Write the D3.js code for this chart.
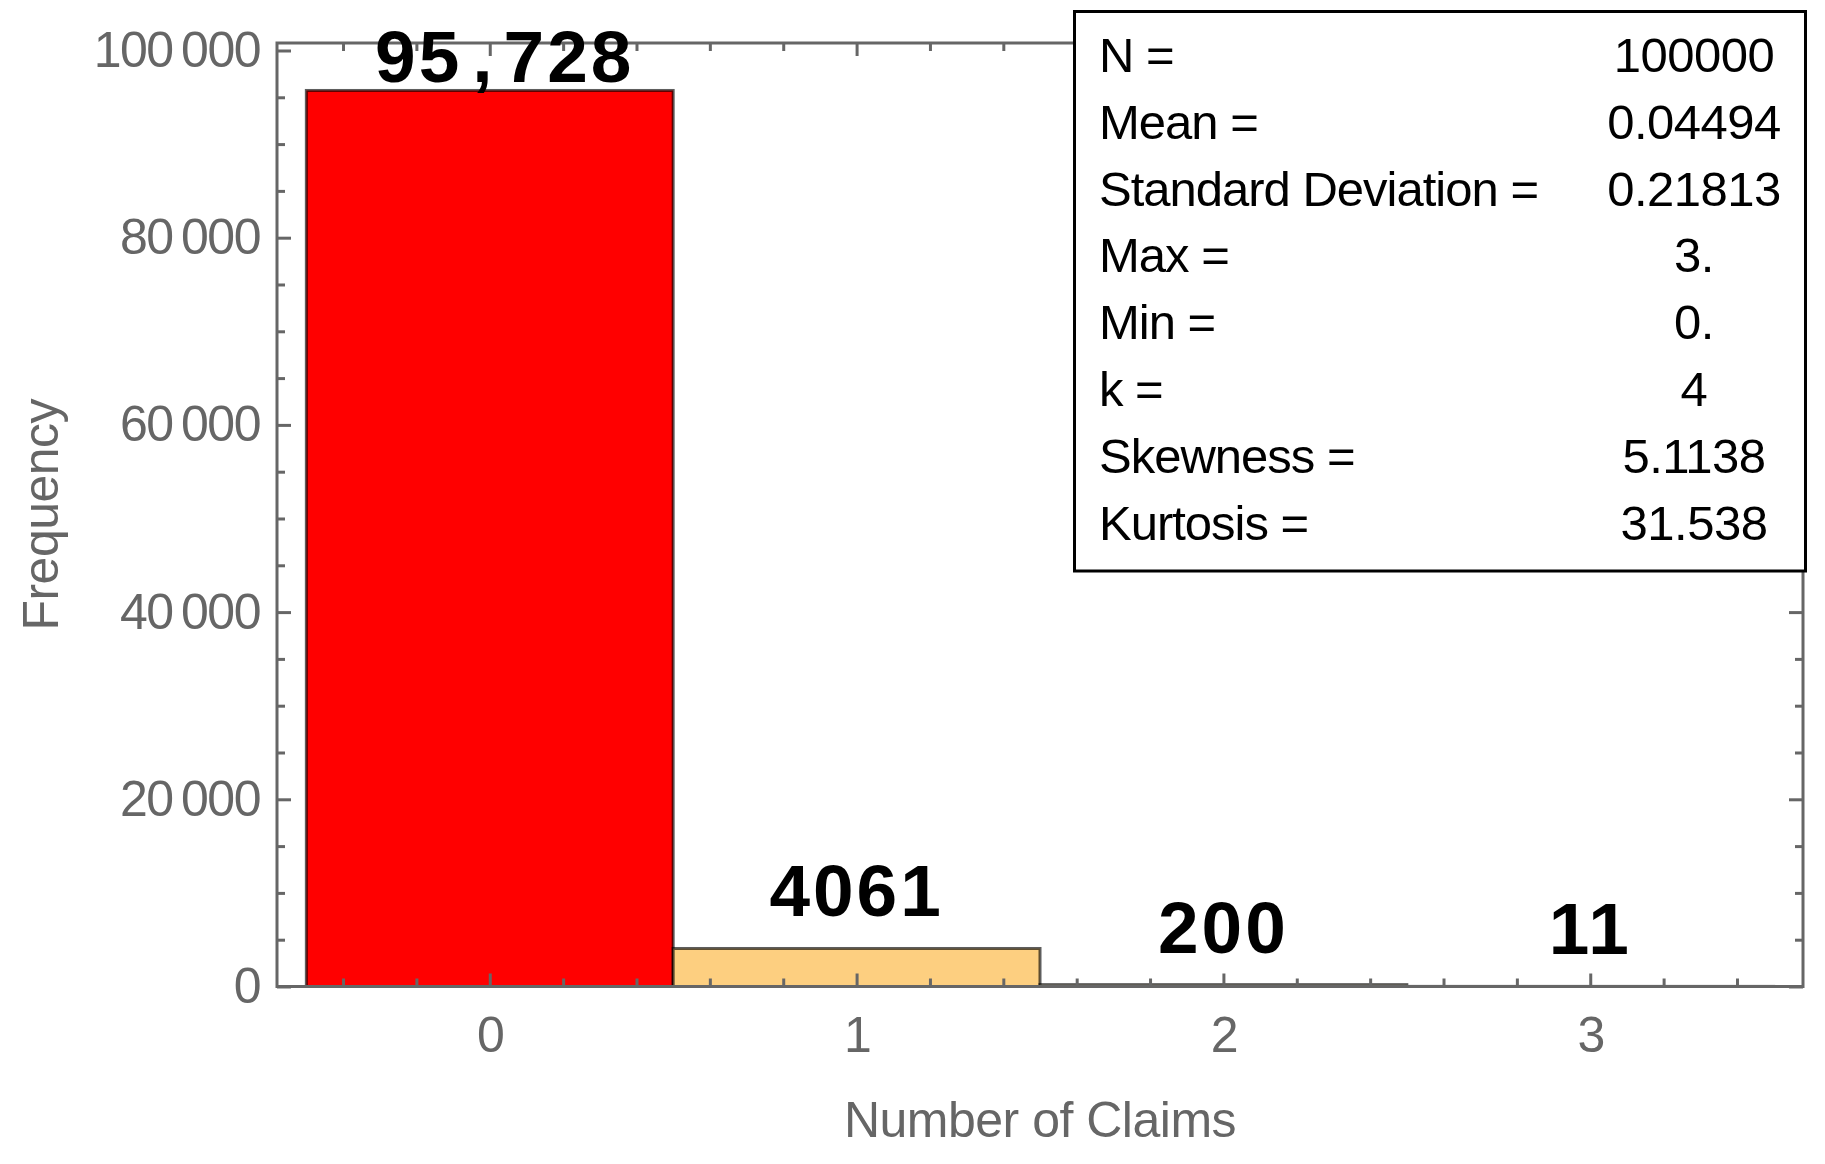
<!DOCTYPE html>
<html>
<head>
<meta charset="utf-8">
<script src="https://cdn.jsdelivr.net/npm/d3@7"></script>
<style>
  html, body { margin: 0; padding: 0; background: #ffffff; }
  svg { display: block; }
  text { font-family: "Liberation Sans", Arial, sans-serif; }
</style>
</head>
<body>
<svg id="chart" width="1825" height="1164"></svg>
<script>
// ---------- data ----------
const categories = [0, 1, 2, 3];
const counts = [95728, 4061, 200, 11];
const barColors = ["#ff0000", "#fdcf80", "#fff0b4", "#ffffff"];
const yTickValues = [0, 20000, 40000, 60000, 80000, 100000];
const xTickValues = [0, 1, 2, 3];
const xTitle = "Number of Claims";
const yTitle = "Frequency";
const statLabels = ["N =", "Mean =", "Standard Deviation =", "Max =", "Min =", "k =", "Skewness =", "Kurtosis ="];
const statValues = ["100000", "0.04494", "0.21813", "3.", "0.", "4", "5.1138", "31.538"];

// ---------- layout ----------
const W = 1825, H = 1164;
const plot = { left: 277, right: 1803, top: 43, bottom: 986.5 };
const gray = "#666666";

const svg = d3.select("#chart");

const x = d3.scaleLinear().domain([-0.58, 3.58]).range([plot.left, plot.right]);
const y = d3.scaleLinear().domain([0, 100800]).range([plot.bottom, plot.top]);

const fmtTick = v => d3.format(",")(v).replace(/,/g, "\u2009");

// ---------- bars ----------
const bars = svg.append("g");
bars.selectAll("rect")
  .data(categories)
  .join("rect")
  .attr("x", (d) => x(d - 0.5))
  .attr("width", (d) => x(d + 0.5) - x(d - 0.5))
  .attr("y", (d, i) => y(counts[i]))
  .attr("height", (d, i) => y(0) - y(counts[i]))
  .attr("fill", (d, i) => barColors[i])
  .attr("stroke", "#000")
  .attr("stroke-opacity", 0.63)
  .attr("stroke-width", 3);

// ---------- axes / ticks ----------
const minorX = d3.range(-4, 36, 2).map(v => v / 10).filter(v => Math.abs(v - Math.round(v)) > 1e-9 && v > -0.58 && v < 3.58);
const minorY = d3.range(0, 101000, 5000).filter(v => v % 20000 !== 0);

function styleAxis(g) {
  g.select(".domain").remove();
  g.selectAll(".tick line").attr("stroke", gray).attr("stroke-width", 3);
  g.selectAll(".tick text")
    .attr("fill", gray)
    .style("font-size", "50px")
    .style("letter-spacing", "-1.5px");
}

// bottom
svg.append("g").attr("transform", `translate(0,${plot.bottom})`)
  .call(d3.axisBottom(x).tickValues(xTickValues).tickSize(-13).tickPadding(30).tickFormat(d3.format("d")))
  .call(styleAxis);
svg.append("g").attr("transform", `translate(0,${plot.bottom})`)
  .call(d3.axisBottom(x).tickValues(minorX).tickSize(-8).tickFormat(""))
  .call(styleAxis);
// top
svg.append("g").attr("transform", `translate(0,${plot.top})`)
  .call(d3.axisTop(x).tickValues(xTickValues).tickSize(-13).tickFormat(""))
  .call(styleAxis);
svg.append("g").attr("transform", `translate(0,${plot.top})`)
  .call(d3.axisTop(x).tickValues(minorX).tickSize(-8).tickFormat(""))
  .call(styleAxis);
// left
svg.append("g").attr("transform", `translate(${plot.left},0)`)
  .call(d3.axisLeft(y).tickValues(yTickValues).tickSize(-14).tickPadding(17).tickFormat(fmtTick))
  .call(styleAxis);
svg.append("g").attr("transform", `translate(${plot.left},0)`)
  .call(d3.axisLeft(y).tickValues(minorY).tickSize(-8).tickFormat(""))
  .call(styleAxis);
// right
svg.append("g").attr("transform", `translate(${plot.right},0)`)
  .call(d3.axisRight(y).tickValues(yTickValues).tickSize(-14).tickFormat(""))
  .call(styleAxis);
svg.append("g").attr("transform", `translate(${plot.right},0)`)
  .call(d3.axisRight(y).tickValues(minorY).tickSize(-8).tickFormat(""))
  .call(styleAxis);

// frame
svg.append("rect")
  .attr("x", plot.left).attr("y", plot.top)
  .attr("width", plot.right - plot.left).attr("height", plot.bottom - plot.top)
  .attr("fill", "none").attr("stroke", gray).attr("stroke-width", 3);

// ---------- bar labels ----------
const labelFmt = v => v >= 10000 ? d3.format(",")(v) : String(v);
const labels = svg.append("g");
categories.forEach((c, i) => {
  const s = labelFmt(counts[i]);
  const parts = s.split(",");
  const ty = Math.max(y(counts[i]) - 32, y(100000) + 32);
  const t = labels.append("text")
    .attr("x", x(c) + (parts.length > 1 ? 15 : 0))
    .attr("y", ty)
    .attr("text-anchor", "middle")
    .attr("fill", "#000")
    .style("font-size", "73px")
    .style("font-weight", "bold")
    .style("letter-spacing", "3px");
  parts.forEach((p, j) => {
    if (j > 0) t.append("tspan").attr("dx", 10).text(",");
    t.append("tspan").attr("dx", j > 0 ? 8 : 0).text(p);
  });
});

// ---------- axis titles ----------
svg.append("text")
  .attr("x", (plot.left + plot.right) / 2)
  .attr("y", 1137)
  .attr("text-anchor", "middle")
  .attr("fill", gray)
  .style("font-size", "50px")
  .style("letter-spacing", "-0.5px")
  .text(xTitle);

svg.append("text")
  .attr("transform", `translate(58,${(plot.top + plot.bottom) / 2}) rotate(-90)`)
  .attr("text-anchor", "middle")
  .attr("fill", gray)
  .style("font-size", "50px")
  .style("letter-spacing", "-0.5px")
  .text(yTitle);

// ---------- stats box ----------
const box = { x: 1074.5, y: 11.5, w: 731, h: 559.5 };
svg.append("rect")
  .attr("x", box.x).attr("y", box.y).attr("width", box.w).attr("height", box.h)
  .attr("fill", "#fff").attr("stroke", "#000").attr("stroke-width", 3);

const lineH = 66.8;
const statG = svg.append("g");
statLabels.forEach((lab, i) => {
  statG.append("text")
    .attr("x", 1099)
    .attr("y", 72 + i * lineH)
    .attr("fill", "#000")
    .style("font-size", "49px")
    .style("letter-spacing", "-1px")
    .text(lab);
  statG.append("text")
    .attr("x", 1694)
    .attr("y", 72 + i * lineH)
    .attr("text-anchor", "middle")
    .attr("fill", "#000")
    .style("font-size", "49px")
    .style("letter-spacing", "-0.5px")
    .text(statValues[i]);
});
</script>
</body>
</html>
